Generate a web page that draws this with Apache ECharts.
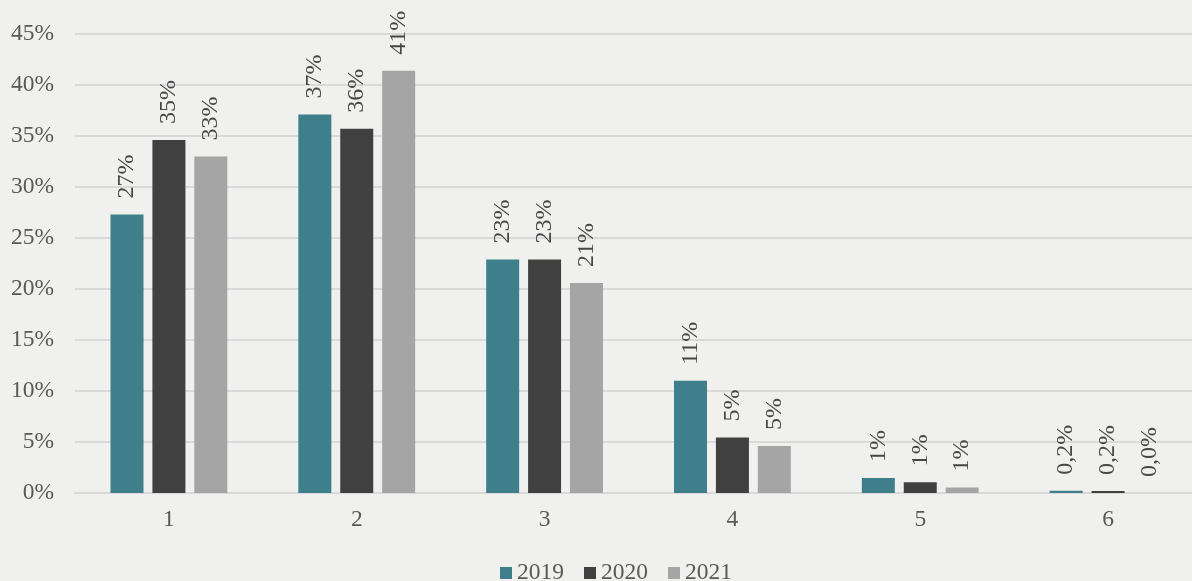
<!DOCTYPE html>
<html>
<head>
<meta charset="utf-8">
<script src="https://cdn.jsdelivr.net/npm/echarts@6/dist/echarts.min.js"></script>
<style>
html,body{margin:0;padding:0;background:#F0F0EF;overflow:hidden;}
#c{width:1204px;height:581px;}
</style>
</head>
<body>
<div id="c"></div>
<script>
const categories = ['1','2','3','4','5','6'];
const seriesNames = ['2019','2020','2021'];
const values2019 = [27.3, 37.1, 22.9, 11.0, 1.47, 0.22];
const values2020 = [34.6, 35.7, 22.9, 5.45, 1.05, 0.2];
const values2021 = [33.0, 41.4, 20.6, 4.6, 0.55, 0.0];
const yTicks = {min: 0, max: 45, interval: 5};

const colors = ['#3E7F8B', '#404040', '#A5A5A5'];
const FONT = "Liberation Serif, Times New Roman, serif";

function fmt(p) {
  const v = p.value;
  if (v < 0.5) return v.toFixed(1).replace('.', ',') + '%';
  return Math.round(v) + '%';
}

function mk(name, data, color) {
  return {
    name: name,
    type: 'bar',
    data: data,
    barWidth: 33,
    barGap: '27%',
    itemStyle: {color: color},
    label: {
      show: true,
      position: 'top',
      rotate: 90,
      align: 'left',
      verticalAlign: 'middle',
      distance: 16,
      formatter: fmt,
      color: '#474747',
      fontFamily: FONT,
      fontSize: 24
    }
  };
}

const chart = echarts.init(document.getElementById('c'));
chart.setOption({
  backgroundColor: '#F0F0EF',
  animation: false,
  color: colors,
  grid: {left: 75, top: 34, width: 1127, height: 459, containLabel: false},
  legend: {
    data: seriesNames,
    top: 561,
    left: 500,
    padding: 0,
    itemWidth: 12,
    itemHeight: 12,
    itemGap: 20,
    icon: 'rect',
    textStyle: {fontFamily: FONT, fontSize: 23.5, color: '#595959'}
  },
  xAxis: {
    type: 'category',
    data: categories,
    axisTick: {show: false},
    axisLine: {lineStyle: {color: '#D9D9D9', width: 2}},
    axisLabel: {fontFamily: FONT, fontSize: 23.5, color: '#595959', margin: 15}
  },
  yAxis: {
    type: 'value',
    min: yTicks.min,
    max: yTicks.max,
    interval: yTicks.interval,
    axisLine: {show: false},
    axisTick: {show: false},
    splitLine: {lineStyle: {color: '#D9D9D9', width: 2}},
    axisLabel: {fontFamily: FONT, fontSize: 23.5, color: '#595959', margin: 21, formatter: '{value}%'}
  },
  series: [
    mk(seriesNames[0], values2019, colors[0]),
    mk(seriesNames[1], values2020, colors[1]),
    mk(seriesNames[2], values2021, colors[2])
  ]
});
</script>
</body>
</html>
